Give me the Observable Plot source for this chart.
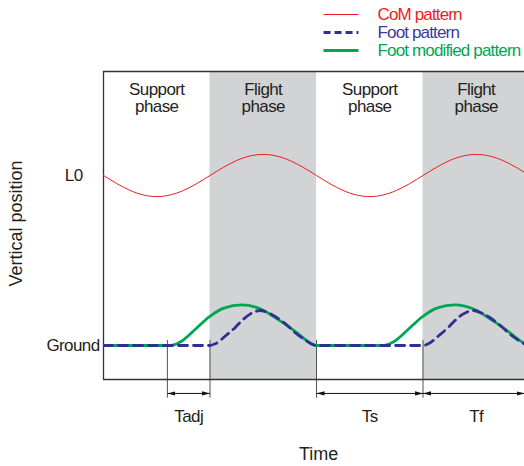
<!DOCTYPE html>
<html>
<head>
<meta charset="utf-8">
<script src="https://cdn.jsdelivr.net/npm/d3@7"></script>
<script src="https://cdn.jsdelivr.net/npm/@observablehq/plot@0.6"></script>
<style>
  html, body { margin: 0; padding: 0; background: #fff; }
  svg { display: block; }
</style>
</head>
<body>
<div id="chart"></div>
<script>
// ---- data ----
// Phases along time (unit = one phase duration)
const phaseStart = [0, 1, 2, 3];
const phaseEnd   = [1, 2, 3, 4];
const phaseKind  = ["support", "flight", "support", "flight"];
const phaseNames = ["Support\nphase", "Flight\nphase", "Support\nphase", "Flight\nphase"];

// CoM pattern (vertical position, Ground = 0, L0 = 1)
const comT = [0, 0.25, 0.5, 0.75, 1, 1.25, 1.5, 1.75, 2, 2.25, 2.5, 2.75, 3, 3.25, 3.5, 3.75, 4];
const comV = [1.0, 0.912, 0.876, 0.912, 1.0, 1.088, 1.124, 1.088, 1.0, 0.912, 0.876, 0.912, 1.0, 1.088, 1.124, 1.088, 1.0];

// Foot pattern (dashed)
const footT = [0, 1.00, 1.05, 1.15, 1.24, 1.30, 1.38, 1.47, 1.57, 1.66, 1.74, 1.80, 1.88, 1.97, 2.00,
               3.00, 3.05, 3.15, 3.24, 3.30, 3.38, 3.47, 3.57, 3.66, 3.74, 3.80, 3.88, 3.97, 4.00];
const footV = [0, 0, 0.01, 0.059, 0.108, 0.147, 0.186, 0.206, 0.185, 0.15, 0.11, 0.075, 0.038, 0.005, 0,
               0, 0.01, 0.059, 0.108, 0.147, 0.186, 0.206, 0.185, 0.15, 0.11, 0.075, 0.038, 0.005, 0];

// Foot modified pattern
const modT = [0, 0.63, 0.72, 0.85, 0.99, 1.13, 1.30, 1.47, 1.63, 1.79, 1.91, 1.99,
              2.63, 2.72, 2.85, 2.99, 3.13, 3.30, 3.47, 3.63, 3.79, 3.91, 3.99];
const modV = [0, 0, 0.02, 0.088, 0.167, 0.22, 0.239, 0.216, 0.157, 0.088, 0.029, 0,
              0, 0.02, 0.088, 0.167, 0.22, 0.239, 0.216, 0.157, 0.088, 0.029, 0];

// Y tick labels
const yTickValues = [0, 1];
const yTickLabels = ["Ground", "L0"];

// Time interval annotations
const intervalStart = [0.6, 2, 3];
const intervalEnd   = [1, 3, 3.953];
const intervalNames = ["Tadj", "Ts", "Tf"];
const intervalMid   = [0.8, 2.5, 3.5];
const markerTimes   = [0.6, 1, 2, 3];

// Legend
const legendLabels = ["CoM pattern", "Foot pattern", "Foot modified pattern"];
const legendColors = ["#ed1c24", "#2e3192", "#00a651"];
const legendTextColors = ["#ed1c24", "#3a3a9c", "#00a651"];
const legendWidths = [1, 3, 3];
const legendDash = [null, "7,4", null];

const axisTitles = ["Time", "Vertical position"];

// ---- build tables ----
const phases = phaseStart.map((s, i) => ({s, e: phaseEnd[i], kind: phaseKind[i], name: phaseNames[i], mid: (s + phaseEnd[i]) / 2}));
const com  = comT.map((t, i) => ({t, v: comV[i]}));
const foot = footT.map((t, i) => ({t, v: footV[i]}));
const mod  = modT.map((t, i) => ({t, v: modV[i]}));
const yTicks = yTickValues.map((v, i) => ({v, label: yTickLabels[i]}));
const intervals = intervalStart.map((s, i) => ({s, e: intervalEnd[i], name: intervalNames[i], mid: intervalMid[i]}));
const legend = legendLabels.map((label, i) => ({label, i}));

const xMax = 3.953, yMin = -0.2, yMax = 1.6118;
const FONT = "'Liberation Sans', Arial, Helvetica, sans-serif";
const RED = "#ed1c24", BLUE = "#2e3192", GREEN = "#00a651";

// annotation placement (in data units)
const yTickTop = 0.03, yTickBottom = -0.31, yArrow = -0.282, yIntLabel = -0.418, yTime = -0.638;
const legX1 = 2.066, legX2 = 2.394, legTextX = 2.573, legY0 = 1.947, legStep = 0.106;

// filled triangular arrowhead
const triangleMarker = (color) => d3.create("svg:marker")
  .attr("viewBox", "-5 -5 10 10")
  .attr("refX", 5)
  .attr("markerWidth", 8)
  .attr("markerHeight", 8)
  .attr("orient", "auto-start-reverse")
  .attr("fill", color)
  .attr("stroke", "none")
  .call(m => m.append("path").attr("d", "M-5,-2.6L5,0L-5,2.6Z"))
  .node();

function build(marker) {
  const legendMarks = legend.map(d => Plot.link([d], {
    x1: () => legX1, x2: () => legX2,
    y1: dd => legY0 - dd.i * legStep, y2: dd => legY0 - dd.i * legStep,
    stroke: legendColors[d.i], strokeWidth: legendWidths[d.i],
    strokeDasharray: legendDash[d.i] || undefined
  }));
  return Plot.plot({
    width: 524,
    height: 466,
    marginLeft: 103,
    marginRight: 0,
    marginTop: 71,
    marginBottom: 87,
    x: {domain: [0, xMax], axis: null},
    y: {domain: [yMin, yMax], axis: null},
    style: {fontFamily: FONT, background: "#fff", color: "#231f20"},
    marks: [
      // flight phase shading
      Plot.rect(phases.filter(d => d.kind === "flight"), {x1: "s", x2: "e", fill: "#d1d3d4", clip: true}),
      // phase labels
      Plot.text(phases, {x: "mid", y: () => yMax, text: "name", lineAnchor: "top", dy: 11,
        fontSize: 17, lineHeight: 1.03, fill: "#231f20"}),
      // interval marker lines
      Plot.ruleX(markerTimes, {x: d => d, y1: () => yTickTop, y2: () => yTickBottom, stroke: "#555", strokeWidth: 1}),
      // frame
      Plot.ruleX([0], {stroke: "#333", strokeWidth: 1.3}),
      Plot.ruleY([yMin, yMax], {stroke: "#333", strokeWidth: 1.3}),
      // CoM pattern
      Plot.line(com, {x: "t", y: "v", stroke: RED, strokeWidth: 1, curve: "natural", clip: true}),
      // Foot modified pattern
      Plot.line(mod, {x: "t", y: "v", stroke: GREEN, strokeWidth: 2.8, curve: "monotone-x", clip: true}),
      // Foot pattern (dashed)
      Plot.line(foot, {x: "t", y: "v", stroke: BLUE, strokeWidth: 2.8, strokeDasharray: "9,6", curve: "monotone-x", clip: true}),
      // y labels
      Plot.text(yTicks.filter(d => d.v === 0), {x: () => 0, y: "v", text: "label", textAnchor: "end",
        dx: -4, fontSize: 17, fill: "#231f20"}),
      Plot.text(yTicks.filter(d => d.v === 1), {x: () => 0, y: "v", text: "label", textAnchor: "end",
        dx: -21, fontSize: 17, fill: "#231f20"}),
      // interval arrows
      Plot.link(intervals, {x1: "s", x2: "e", y1: () => yArrow, y2: () => yArrow,
        stroke: "#111", strokeWidth: 1, markerStart: marker, markerEnd: marker}),
      Plot.text(intervals, {x: "mid", y: () => yIntLabel, text: "name", fontSize: 17, fill: "#231f20"}),
      // axis titles
      Plot.text([axisTitles[0]], {x: () => 2.02, y: () => yTime, text: d => d, fontSize: 18, fill: "#231f20"}),
      Plot.text([axisTitles[1]], {x: () => -0.817, y: () => 0.718, text: d => d, rotate: -90,
        fontSize: 18, fill: "#231f20"}),
      // legend
      ...legendMarks,
      Plot.text(legend, {x: () => legTextX, y: d => legY0 - d.i * legStep, text: "label", textAnchor: "start",
        fill: d => legendTextColors[d.i], fontSize: 17})
    ]
  });
}

let chart;
try { chart = build(triangleMarker); } catch (e) { chart = build("arrow"); }

// tighten letter spacing to match the narrow typeface of the reference
d3.select(chart).selectAll("text").each(function() {
  const t = this.textContent;
  let ls = "-0.6px";
  if (axisTitles.includes(t)) ls = "0px";
  else if (legendLabels.includes(t)) ls = "-0.85px";
  this.style.letterSpacing = ls;
});
document.getElementById("chart").appendChild(chart);
</script>
</body>
</html>
